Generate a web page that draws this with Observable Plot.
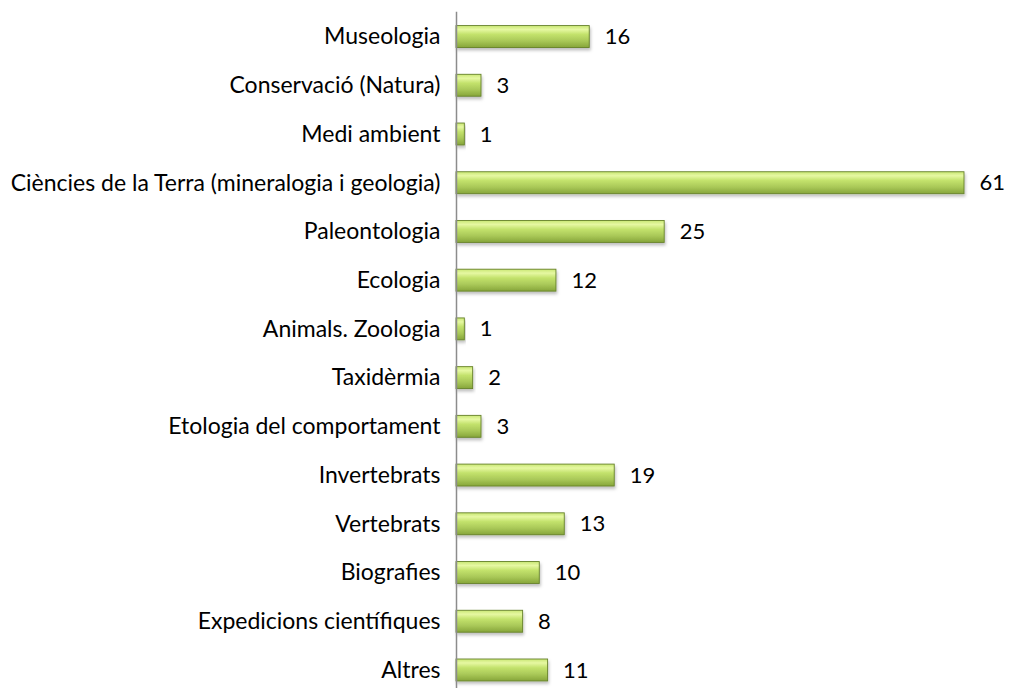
<!DOCTYPE html>
<html>
<head>
<meta charset="utf-8">
<script src="https://cdn.jsdelivr.net/npm/d3@7"></script>
<script src="https://cdn.jsdelivr.net/npm/@observablehq/plot@0.6"></script>
<style>
  html, body { margin: 0; padding: 0; background: #fff; }
  #chart svg { display: block; }
</style>
</head>
<body>
<div id="chart"></div>
<script>
const categories = [
  "Museologia",
  "Conservació (Natura)",
  "Medi ambient",
  "Ciències de la Terra (mineralogia i geologia)",
  "Paleontologia",
  "Ecologia",
  "Animals. Zoologia",
  "Taxidèrmia",
  "Etologia del comportament",
  "Invertebrats",
  "Vertebrats",
  "Biografies",
  "Expedicions científiques",
  "Altres"
];
const values = [16, 3, 1, 61, 25, 12, 1, 2, 3, 19, 13, 10, 8, 11];

const data = categories.map((c, i) => ({category: c, value: values[i]}));

const font = "Lato, 'Open Sans', sans-serif";

const plot = Plot.plot({
  width: 1011,
  height: 688,
  marginLeft: 456,
  marginRight: 47,
  marginTop: 20.7,
  marginBottom: 2.2,
  style: {fontFamily: font, fontSize: "23px", color: "#000", background: "#fff", overflow: "visible"},
  x: {domain: [0, 61], axis: null},
  y: {domain: categories, paddingInner: 0.55, paddingOuter: 0.1, round: false, label: null},
  marks: [
    Plot.barX(data, {x: "value", y: "category", fill: "url(#barGrad)", stroke: "#66822a", strokeWidth: 0.9}),
    Plot.text(data, {x: "value", y: "category", text: d => String(d.value), textAnchor: "start", dx: 15, fontSize: 22, fill: "#000"}),
    Plot.axisY({tickSize: 0, tickPadding: 16, fontSize: 23, label: null, fill: "#000"}),
    Plot.ruleX([0], {stroke: "#8c8c8c", strokeWidth: 1.5, insetTop: -9, insetBottom: -3})
  ]
});

// gradient + shadow defs
const ns = "http://www.w3.org/2000/svg";
const defs = document.createElementNS(ns, "defs");
const grad = document.createElementNS(ns, "linearGradient");
grad.setAttribute("id", "barGrad");
grad.setAttribute("x1", "0"); grad.setAttribute("y1", "0");
grad.setAttribute("x2", "0"); grad.setAttribute("y2", "1");
[["0", "#c9e774"], ["0.18", "#e6f8a2"], ["0.4", "#c3e26c"], ["0.7", "#a9c858"], ["1", "#86a53a"]].forEach(([o, c]) => {
  const s = document.createElementNS(ns, "stop");
  s.setAttribute("offset", o); s.setAttribute("stop-color", c);
  grad.appendChild(s);
});
defs.appendChild(grad);
const filt = document.createElementNS(ns, "filter");
filt.setAttribute("id", "barShadow");
filt.setAttribute("x", "-10%"); filt.setAttribute("y", "-30%");
filt.setAttribute("width", "130%"); filt.setAttribute("height", "180%");
const ds = document.createElementNS(ns, "feDropShadow");
ds.setAttribute("dx", "1"); ds.setAttribute("dy", "2.5");
ds.setAttribute("stdDeviation", "1.5");
ds.setAttribute("flood-color", "#000"); ds.setAttribute("flood-opacity", "0.25");
filt.appendChild(ds);
defs.appendChild(filt);
plot.insertBefore(defs, plot.firstChild);
plot.querySelectorAll("rect").forEach(r => { if (r.getAttribute("fill") === "url(#barGrad)" || (r.parentNode && r.parentNode.getAttribute("fill") === "url(#barGrad)")) r.setAttribute("filter", "url(#barShadow)"); });

document.getElementById("chart").appendChild(plot);
</script>
</body>
</html>
